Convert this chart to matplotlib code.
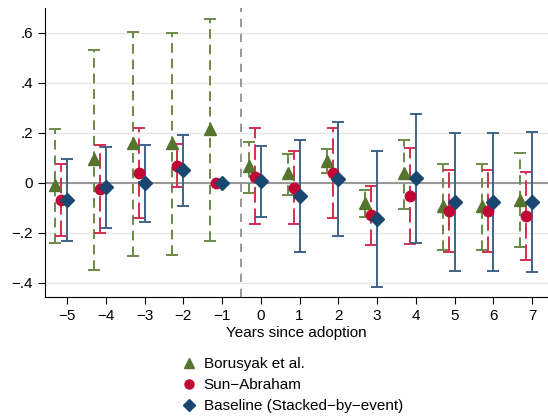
import numpy as np
import matplotlib
matplotlib.use("Agg")
import matplotlib.pyplot as plt
from matplotlib.lines import Line2D

plt.rcParams['font.family'] = ['Liberation Sans', 'DejaVu Sans']

years = [-5, -4, -3, -2, -1, 0, 1, 2, 3, 4, 5, 6, 7]

# Borusyak et al.
bor_est = [-0.010, 0.095, 0.159, 0.159, 0.215, 0.068, 0.039, 0.089, -0.079, 0.039, -0.092, -0.092, -0.068]
bor_hi = [0.216, 0.532, 0.603, 0.600, 0.657, 0.165, 0.115, 0.136, -0.029, 0.172, 0.076, 0.076, 0.119]
bor_lo = [-0.241, -0.348, -0.292, -0.288, -0.232, -0.039, -0.048, 0.039, -0.135, -0.104, -0.268, -0.268, -0.255]

# Sun-Abraham (no interval at -1)
sa_est = [-0.068, -0.025, 0.041, 0.069, 0.000, 0.025, -0.019, 0.041, -0.128, -0.052, -0.111, -0.111, -0.131]
sa_hi = [0.076, 0.152, 0.221, 0.156, 0.000, 0.219, 0.129, 0.219, -0.012, 0.141, 0.052, 0.052, 0.043]
sa_lo = [-0.212, -0.201, -0.139, -0.017, 0.000, -0.165, -0.165, -0.139, -0.248, -0.244, -0.275, -0.275, -0.308]

# Baseline (stacked-by-event, no interval at -1)
bs_est = [-0.068, -0.017, -0.001, 0.052, 0.000, 0.008, -0.052, 0.016, -0.145, 0.019, -0.075, -0.075, -0.075]
bs_hi = [0.096, 0.143, 0.152, 0.192, 0.000, 0.149, 0.172, 0.243, 0.129, 0.276, 0.201, 0.201, 0.205]
bs_lo = [-0.232, -0.179, -0.157, -0.091, 0.000, -0.135, -0.275, -0.211, -0.417, -0.239, -0.351, -0.351, -0.355]

yticks = [-0.4, -0.2, 0, 0.2, 0.4, 0.6]
ylabels = ['\u2212.4', '\u2212.2', '0', '.2', '.4', '.6']

green = '#55752f'
red = '#c10534'
blue = '#1a476f'

fig = plt.figure(figsize=(5.48, 4.2), dpi=100)
ax = fig.add_axes([0.082, 0.293, 0.918, 0.688])

x = np.array(years, dtype=float)

for yv in yticks:
    if yv != 0:
        ax.axhline(yv, color='#e6e6e6', lw=1, zorder=0)
ax.axhline(0, color='#999999', lw=1.5, zorder=1)
ax.axvline(-0.5, color='#888888', lw=1.2, ls=(0, (5, 4)), zorder=1)

def draw(offset, est, lo, hi, color, marker, ms, ls, ecolor):
    est = np.array(est); lo = np.array(lo); hi = np.array(hi)
    xs = x + offset
    has = hi != lo
    eb = ax.errorbar(xs[has], est[has], yerr=[est[has] - lo[has], hi[has] - est[has]],
                     fmt='none', ecolor=ecolor, elinewidth=1.4, capsize=4.5,
                     capthick=1.4, zorder=2)
    for c in eb[2]:
        c.set_linestyle(ls)
    ax.plot(xs, est, ls='none', marker=marker, color=color, ms=ms, zorder=3)

draw(-0.3, bor_est, bor_lo, bor_hi, green, '^', 8, (0, (5, 3)), '#6b8a45')
draw(-0.15, sa_est, sa_lo, sa_hi, red, 'o', 7.5, (0, (8, 3)), '#d0304f')
draw(0.0, bs_est, bs_lo, bs_hi, blue, 'D', 7, '-', '#3e6489')

ax.set_xlim(-5.57, 7.41)
ax.set_ylim(-0.456, 0.70)
ax.set_xticks(years)
ax.set_xticklabels([str(v).replace('-', '\u2212') for v in years])
ax.set_yticks(yticks)
ax.set_yticklabels(ylabels)
ax.tick_params(labelsize=11, length=5, color='black')
ax.spines['top'].set_visible(False)
ax.spines['right'].set_visible(False)
ax.set_xlabel('Years since adoption', fontsize=11, labelpad=2)

handles = [
    Line2D([], [], ls='none', marker='^', color=green, ms=7),
    Line2D([], [], ls='none', marker='o', color=red, ms=6.5),
    Line2D([], [], ls='none', marker='D', color=blue, ms=6),
]
labels = ['Borusyak et al.', 'Sun\u2212Abraham', 'Baseline (Stacked\u2212by\u2212event)']
fig.legend(handles, labels, loc='upper left', bbox_to_anchor=(0.305, 0.182),
           frameon=False, fontsize=11, handlelength=1, handletextpad=0.5,
           labelspacing=0.45)

fig.savefig('out.png', dpi=100)
